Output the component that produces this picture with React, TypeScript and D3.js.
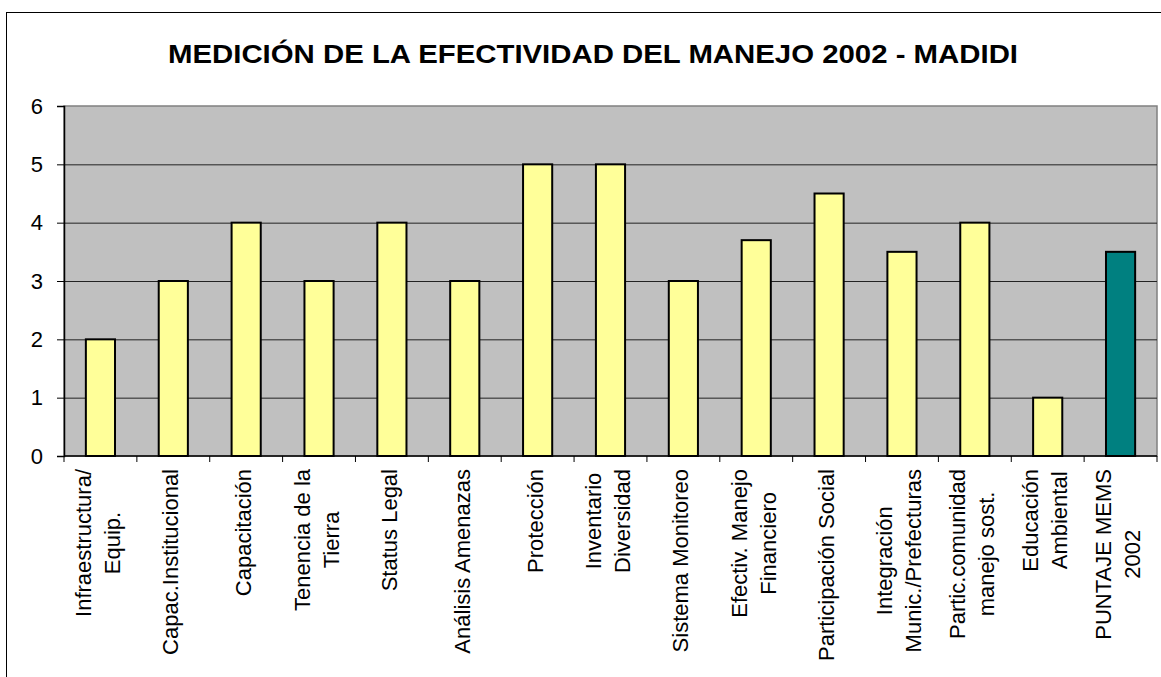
// D3.js — Medición de la efectividad del manejo 2002, Madidi
import React, { useEffect, useRef } from "react";
import * as d3 from "d3";

const categories: string[][] = [
  ["Infraestructura/", "Equip."],
  ["Capac.Institucional"],
  ["Capacitación"],
  ["Tenencia de la", "Tierra"],
  ["Status Legal"],
  ["Análisis Amenazas"],
  ["Protección"],
  ["Inventario", "Diversidad"],
  ["Sistema Monitoreo"],
  ["Efectiv. Manejo", "Financiero"],
  ["Participación Social"],
  ["Integración", "Munic./Prefecturas"],
  ["Partic.comunidad", "manejo sost."],
  ["Educación", "Ambiental"],
  ["PUNTAJE MEMS", "2002"],
];
const scores = [2, 3, 4, 3, 4, 3, 5, 5, 3, 3.7, 4.5, 3.5, 4, 1, 3.5];
const yTicks = [0, 1, 2, 3, 4, 5, 6];
const title = "MEDICIÓN DE LA EFECTIVIDAD DEL MANEJO 2002 - MADIDI";

const App: React.FC = () => {
  const svgRef = useRef<SVGSVGElement>(null);

  useEffect(() => {
    if (!svgRef.current) return;
    const W = 1161, H = 677;
    const plot = { left: 64, right: 1157, top: 106, bottom: 456 };
    const font = "Arial, 'Liberation Sans', sans-serif";

    const svg = d3.select(svgRef.current);
    svg.selectAll("*").remove();

    // outer chart border (runs off the right and bottom of the picture)
    svg.append("rect")
      .attr("x", 6.5).attr("y", 12.5)
      .attr("width", W).attr("height", H)
      .attr("fill", "#fff").attr("stroke", "#000").attr("stroke-width", 1);

    // title is stretched wide in the original
    svg.append("text")
      .attr("x", 593).attr("y", 63)
      .attr("text-anchor", "middle")
      .attr("font-family", font).attr("font-weight", "bold").attr("font-size", 25.5)
      .attr("textLength", 850).attr("lengthAdjust", "spacingAndGlyphs")
      .text(title);

    const idx = scores.map((_, i) => String(i));
    const x = d3.scaleBand()
      .domain(idx)
      .range([plot.left, plot.right])
      .paddingInner(0.6)
      .paddingOuter(0.3);

    const y = d3.scaleLinear().domain([0, 6]).range([plot.bottom, plot.top]);

    // plot area
    svg.append("rect")
      .attr("x", plot.left).attr("y", plot.top)
      .attr("width", plot.right - plot.left).attr("height", plot.bottom - plot.top)
      .attr("fill", "#c0c0c0")
      .attr("stroke", "#808080").attr("stroke-width", 1.5);

    // grid lines
    svg.append("g")
      .attr("transform", `translate(${plot.left},0)`)
      .call(d3.axisLeft(y).tickValues(yTicks.slice(1, -1)).tickSize(-(plot.right - plot.left)).tickFormat(() => ""))
      .call(g => g.select(".domain").remove())
      .call(g => g.selectAll(".tick line").attr("stroke", "#222").attr("stroke-width", 1));

    // y axis
    svg.append("g")
      .attr("transform", `translate(${plot.left},0)`)
      .call(d3.axisLeft(y).tickValues(yTicks).tickSize(7).tickPadding(14).tickFormat(d3.format("d")))
      .call(g => g.select(".domain").attr("stroke", "#000").attr("stroke-width", 1.5))
      .call(g => g.selectAll(".tick line").attr("stroke", "#000"))
      .call(g => g.selectAll(".tick text")
        .attr("fill", "#000").attr("font-size", 22).attr("font-family", font));

    // bars
    svg.append("g").selectAll("rect")
      .data(scores)
      .join("rect")
      .attr("x", (_, i) => x(String(i))!)
      .attr("y", d => y(d))
      .attr("width", x.bandwidth())
      .attr("height", d => y(0) - y(d))
      .attr("fill", (_, i) => i === scores.length - 1 ? "#008080" : "#ffff99")
      .attr("stroke", "#000")
      .attr("stroke-width", 2);

    // x axis line and ticks at category boundaries
    const step = x.step();
    const boundaries = d3.range(scores.length + 1).map(k => plot.left + k * step);
    const xa = svg.append("g");
    xa.append("line")
      .attr("x1", plot.left).attr("x2", plot.right)
      .attr("y1", plot.bottom).attr("y2", plot.bottom)
      .attr("stroke", "#000").attr("stroke-width", 1.5);
    xa.selectAll("line.tick")
      .data(boundaries)
      .join("line")
      .attr("class", "tick")
      .attr("x1", d => d).attr("x2", d => d)
      .attr("y1", plot.bottom).attr("y2", plot.bottom + 6)
      .attr("stroke", "#000");

    // rotated category labels, lines centred on the longest one
    const lineGap = 29;
    const labelTop = 469;
    categories.forEach((lines, i) => {
      const cx = x(String(i))! + x.bandwidth() / 2;
      const g = svg.append("g");
      const texts = lines.map((ln, j) => g.append("text")
        .attr("text-anchor", "middle")
        .attr("font-family", font).attr("font-size", 22)
        .attr("fill", "#000")
        .attr("y", (j - (lines.length - 1) / 2) * lineGap + 5)
        .text(ln));
      const maxLen = d3.max(texts, t => (t.node() as SVGTextElement).getComputedTextLength()) ?? 0;
      g.attr("transform", `translate(${cx},${labelTop + maxLen / 2}) rotate(-90)`);
    });
  }, []);

  return (
    <div style={{ position: "absolute", left: 0, top: 0 }}>
      <svg ref={svgRef} width={1161} height={677} style={{ display: "block" }} />
    </div>
  );
};

export default App;
